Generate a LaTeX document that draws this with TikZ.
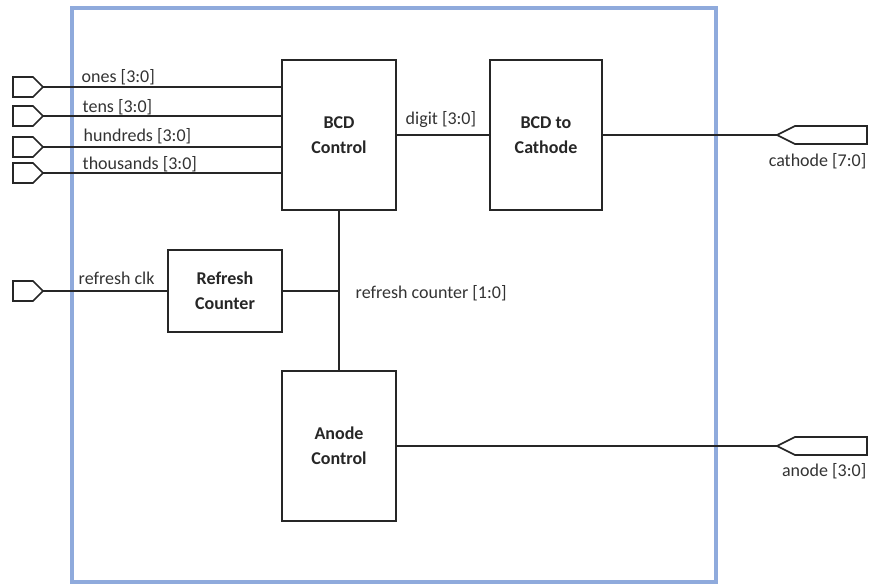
\documentclass[tikz,border=0pt]{standalone}
\usepackage{fontspec}
\setmainfont{Carlito}
\usetikzlibrary{calc}

\begin{document}
\begin{tikzpicture}[x=0.75pt,y=-0.75pt,line width=1.1pt,font=\fontsize{13.5}{16}\selectfont]
  \tikzstyle{block}=[draw=black!85,line width=2pt,inner sep=0pt,align=center,font=\fontsize{13.5}{19}\selectfont\bfseries,text=black!85]
  \tikzstyle{wire}=[draw=black!85,line width=1.2pt]
  \tikzstyle{port}=[draw=black!85,line width=1.2pt,fill=white]
  \tikzstyle{sig}=[text=black!80,inner sep=0pt]

  \useasboundingbox (0,0) rectangle (880,586);

  % module boundary
  \draw[line width=3pt,color={rgb,255:red,143;green,170;blue,220}] (72,8) rectangle (716,582);

  % blocks
  \node[block,minimum width=85.5pt,minimum height=112.5pt] (bcd)     at (339,135) {BCD\\Control};
  \node[block,minimum width=84pt,minimum height=112.5pt]   (conv)    at (546,135) {BCD to\\Cathode};
  \node[block,minimum width=85.5pt,minimum height=61.5pt]  (refresh) at (225,291) {Refresh\\Counter};
  \node[block,minimum width=85.5pt,minimum height=112.5pt] (anode)   at (339,446) {Anode\\Control};

  % port tips
  \coordinate (ones)      at (43,87);
  \coordinate (tens)      at (43,116);
  \coordinate (hundreds)  at (43,147);
  \coordinate (thousands) at (43,173);
  \coordinate (clk)       at (43,291);
  \coordinate (cathode)   at (777,135);
  \coordinate (anodeout)  at (777,446);
  \coordinate (tap)       at (refresh.east -| bcd.south);

  % wires
  \foreach \p in {ones,tens,hundreds,thousands}
    \draw[wire] (\p) -- (\p -| bcd.west);
  \draw[wire] (clk) -- (refresh.west);
  \draw[wire] (bcd.east) -- (conv.west);
  \draw[wire] (conv.east) -- (cathode);
  \draw[wire] (bcd.south) -- (anode.north);
  \draw[wire] (refresh.east) -- (tap);
  \draw[wire] (anode.east) -- (anodeout);

  % input and output ports
  \foreach \p in {ones,tens,hundreds,thousands,clk}
    \draw[port] (\p) -- ++(-10,-10) -- ++(-20,0) -- ++(0,20) -- ++(20,0) -- cycle;
  \foreach \p in {cathode,anodeout}
    \draw[port] (\p) -- ++(18,-9) -- ++(72,0) -- ++(0,18) -- ++(-72,0) -- cycle;

  % signal names
  \node[sig,anchor=base west] (onesl)      at (81,82)   {ones [3:0]};
  \node[sig,anchor=base west] (tensl)      at (82,112)  {tens [3:0]};
  \node[sig,anchor=base west] (hundredsl)  at (83,141)  {hundreds [3:0]};
  \node[sig,anchor=base west] (thousandsl) at (82,169)  {thousands [3:0]};
  \node[sig,anchor=base west] (clkl)       at (78,284)  {refresh clk};
  \node[sig,anchor=base west] (tapl)       at (355,298) {refresh counter [1:0]};
  \node[sig,anchor=base west] (digitl)     at (405,124) {digit [3:0]};
  \node[sig,anchor=base east] (cathodel)   at (867,166) {cathode [7:0]};
  \node[sig,anchor=base east] (anodel)     at (867,476) {anode [3:0]};
\end{tikzpicture}
\end{document}
